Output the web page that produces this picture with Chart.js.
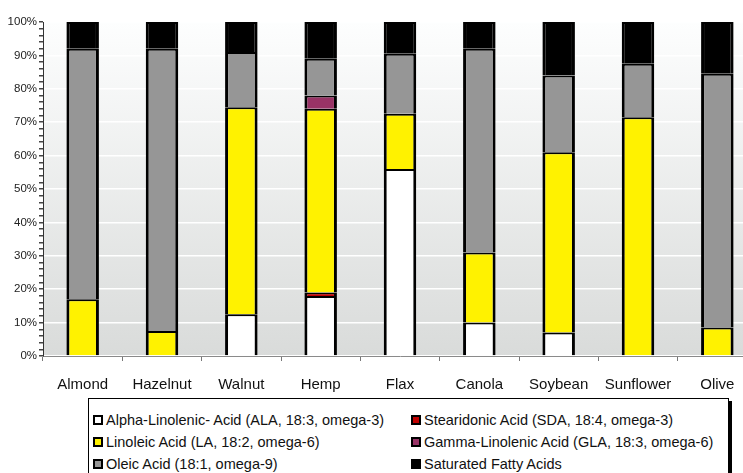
<!DOCTYPE html>
<html>
<head>
<meta charset="utf-8">
<script src="https://cdn.jsdelivr.net/npm/chart.js@4"></script>
<style>
  html, body { margin: 0; padding: 0; background: #fff; overflow: hidden; width: 743px; height: 473px; }
  #wrap { position: absolute; left: 0; top: 0; width: 757px; height: 398px; }
  #legend {
    position: absolute; left: 88px; top: 398px; width: 641px; height: 90px;
    border: 1px solid #000; box-shadow: 3px 3px 0 #000; background: #fff;
    box-sizing: border-box; padding: 10px 0 0 4px;
    display: grid; grid-template-columns: 318px auto; grid-auto-rows: 22px;
    font-family: 'Liberation Sans', Arial, sans-serif; font-size: 14.5px; color: #111;
  }
  .item { display: flex; align-items: center; white-space: nowrap; }
  .sw { width: 6px; height: 6px; border: 2px solid #000; margin-right: 3px; flex: none; }
</style>
</head>
<body>
<div id="wrap"><canvas id="chart"></canvas></div>
<div id="legend"></div>
<script>
var oils = ['Almond', 'Hazelnut', 'Walnut', 'Hemp', 'Flax', 'Canola', 'Soybean', 'Sunflower', 'Olive'];

// percent of total fat, bottom to top of each bar
var ala = [0, 0, 12.5, 18, 56, 10, 7, 0, 0];
var sda = [0, 0, 0, 1, 0, 0, 0, 0, 0];
var la = [17, 7.5, 62, 55, 16.5, 21, 54, 71.5, 8.5];
var gla = [0, 0, 0, 4, 0, 0, 0, 0, 0];
var oleic = [75, 84.5, 16.5, 11, 18, 61, 23, 16, 76];
var saturated = [8, 8, 9, 11, 9.5, 8, 16, 12.5, 15.5];

var seriesNames = [
  'Alpha-Linolenic- Acid (ALA, 18:3, omega-3)',
  'Stearidonic Acid (SDA, 18:4, omega-3)',
  'Linoleic Acid (LA, 18:2, omega-6)',
  'Gamma-Linolenic Acid (GLA, 18:3, omega-6)',
  'Oleic Acid (18:1, omega-9)',
  'Saturated Fatty Acids'
];
var seriesColors = ['#ffffff', '#c00000', '#fff200', '#993366', '#969696', '#000000'];
var seriesData = [ala, sda, la, gla, oleic, saturated];

var font = "'Liberation Sans', Arial, sans-serif";

var datasets = seriesData.map(function(d, i) {
  return {
    label: seriesNames[i],
    data: d,
    backgroundColor: seriesColors[i],
    borderColor: '#000',
    borderWidth: { top: 2, left: 3, right: 3, bottom: 0 },
    borderSkipped: 'start',
    barPercentage: 0.41,
    categoryPercentage: 1
  };
});

// gradient behind the plot area
var plotBg = {
  id: 'plotBg',
  beforeDraw: function(chart) {
    var a = chart.chartArea, ctx = chart.ctx;
    var g = ctx.createLinearGradient(0, a.top, 0, a.bottom);
    g.addColorStop(0, '#fdfefe');
    g.addColorStop(1, '#d9dbda');
    ctx.save();
    ctx.fillStyle = g;
    ctx.fillRect(a.left, a.top, a.right - a.left, a.bottom - a.top);
    ctx.restore();
  }
};

window.onload = function() {
  var ctx = document.getElementById('chart').getContext('2d');
  new Chart(ctx, {
    type: 'bar',
    data: { labels: oils, datasets: datasets },
    options: {
      responsive: true,
      maintainAspectRatio: false,
      animation: false,
      layout: { padding: { top: 22, right: 0, left: 0, bottom: 0 } },
      plugins: { legend: { display: false }, tooltip: { enabled: false } },
      scales: {
        x: {
          stacked: true,
          afterFit: function(s) { s.height = 42; },
          border: { color: '#8a8a8a', width: 1 },
          grid: { drawOnChartArea: false, tickColor: '#777', tickLength: 5, offset: true },
          ticks: { color: '#111', font: { family: font, size: 15 }, padding: 15, maxRotation: 0 }
        },
        y: {
          stacked: true,
          min: 0,
          max: 100,
          afterFit: function(s) { s.width = 43; },
          border: { color: '#333', width: 1 },
          grid: {
            color: function(c) { return c.tick && c.tick.value % 10 === 0 ? '#ffffff' : 'rgba(0,0,0,0)'; },
            lineWidth: 1.5,
            tickColor: '#444',
            tickLength: 4
          },
          ticks: {
            stepSize: 2,
            autoSkip: false,
            padding: 2,
            color: '#222',
            font: { family: font, size: 11.5 },
            callback: function(v) { return v % 10 === 0 ? v + '%' : ''; }
          }
        }
      }
    },
    plugins: [plotBg]
  });

  var leg = document.getElementById('legend');
  datasets.forEach(function(ds) {
    var it = document.createElement('div');
    it.className = 'item';
    var sw = document.createElement('span');
    sw.className = 'sw';
    sw.style.background = ds.backgroundColor;
    var tx = document.createElement('span');
    tx.textContent = ds.label;
    it.appendChild(sw);
    it.appendChild(tx);
    leg.appendChild(it);
  });
};
</script>
</body>
</html>
